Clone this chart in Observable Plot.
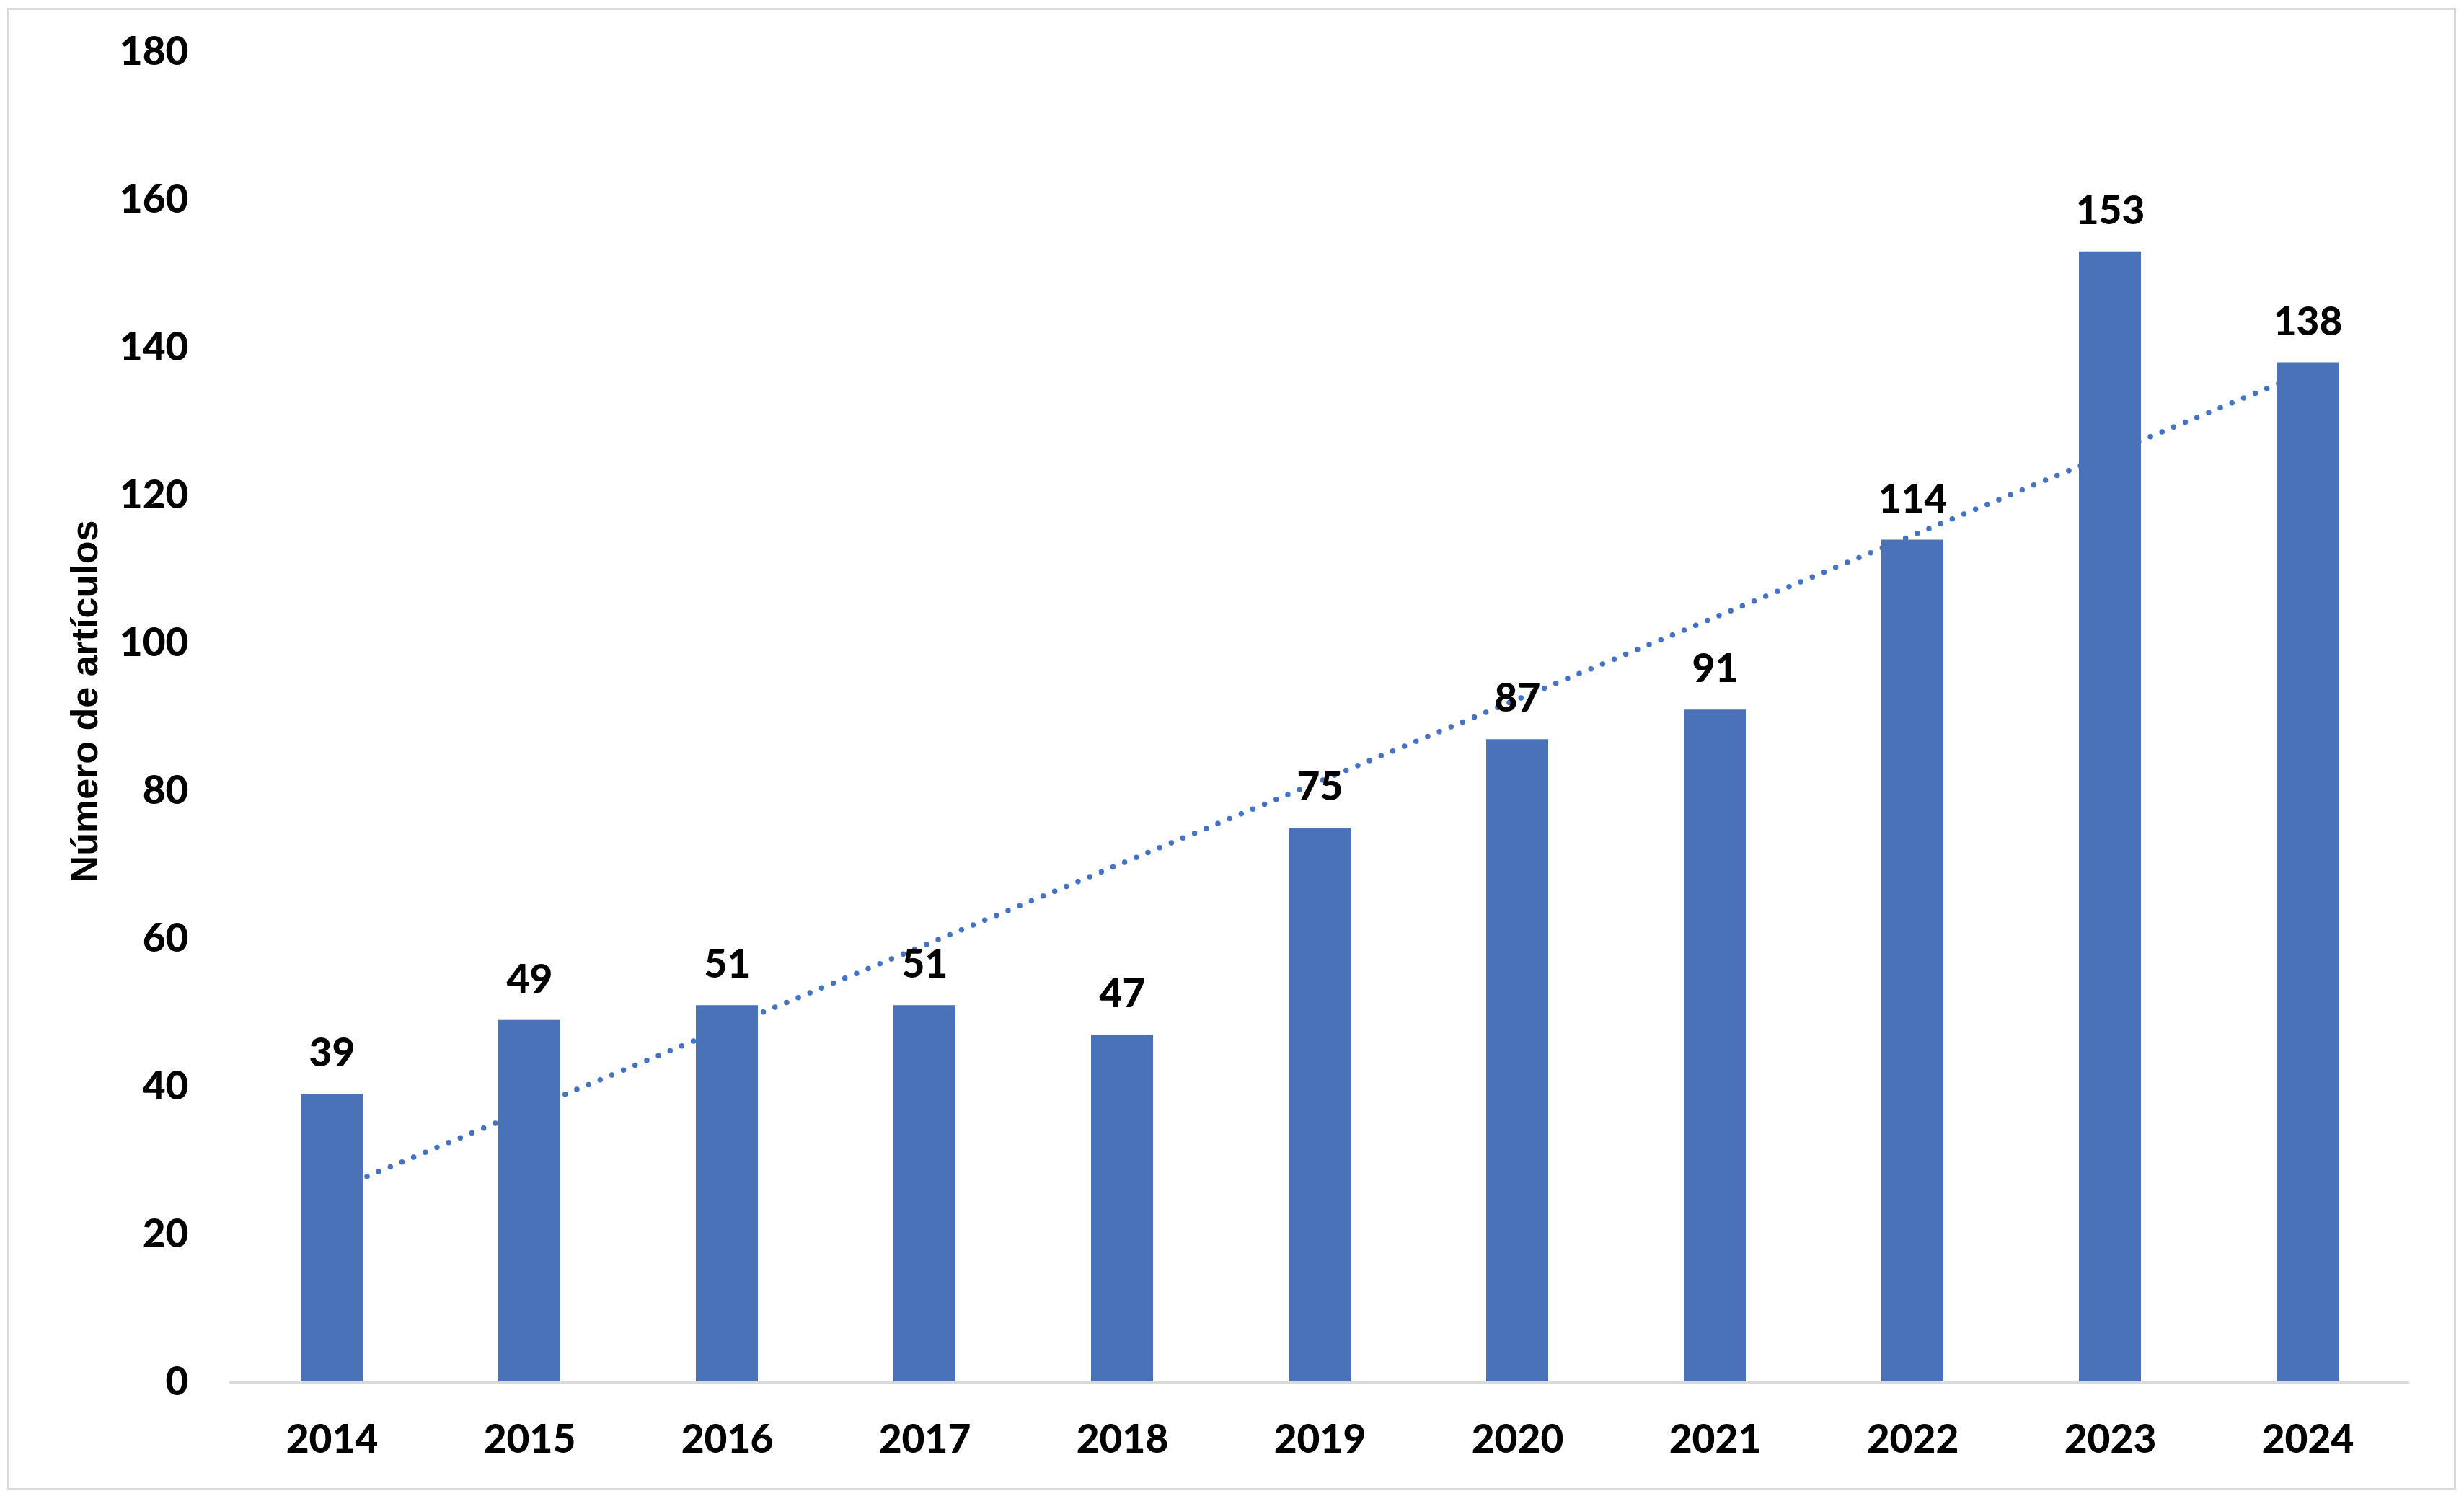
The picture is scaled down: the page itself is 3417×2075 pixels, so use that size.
<!DOCTYPE html>
<html>
<head>
<meta charset="utf-8">
<script src="https://cdn.jsdelivr.net/npm/d3@7"></script>
<script src="https://cdn.jsdelivr.net/npm/@observablehq/plot@0.6"></script>
<style>
  html, body { margin: 0; padding: 0; background: #fff; }
</style>
</head>
<body>
<div id="chart"></div>
<script>
const years = ["2014", "2015", "2016", "2017", "2018", "2019", "2020", "2021", "2022", "2023", "2024"];
const articles = [39, 49, 51, 51, 47, 75, 87, 91, 114, 153, 138];
const yTicks = [0, 20, 40, 60, 80, 100, 120, 140, 160, 180];
const yLabel = "Número de artículos";

const data = years.map((year, i) => ({year, value: articles[i]}));

// Linear (least-squares) trend line computed from the data
const idx = d3.range(articles.length);
const mx = d3.mean(idx), my = d3.mean(articles);
const slope = d3.sum(idx, i => (i - mx) * (articles[i] - my)) / d3.sum(idx, i => (i - mx) ** 2);
const trend = years.map((year, i) => ({year, value: my + slope * (i - mx)}));

const blue = "#4A72B8";
const lineBlue = "#4472C4";
const grey = "#d9d9d9";
const numFont = "Lato, 'Open Sans', sans-serif";
const numWeight = 900;

const chart = Plot.plot({
  width: 3417,
  height: 2075,
  marginLeft: 318,
  marginRight: 76,
  marginTop: 72,
  marginBottom: 158,
  style: {fontFamily: numFont, fontSize: "55px", fontWeight: "bold", background: "#fff", color: "#000"},
  x: {type: "band", domain: years, paddingInner: 0.687, paddingOuter: 0.3435},
  y: {domain: [0, 180]},
  marks: [
    Plot.frame({stroke: grey, strokeWidth: 3, insetLeft: -307, insetTop: -60, insetRight: -63, insetBottom: -148}),
    Plot.line(trend, {x: "year", y: "value", stroke: lineBlue, strokeWidth: 7.5, strokeDasharray: "0 17.5", strokeLinecap: "round"}),
    Plot.barY(data, {x: "year", y: "value", fill: blue}),
    Plot.ruleY([0], {stroke: grey, strokeWidth: 3}),
    Plot.text(data, {x: "year", y: "value", text: d => String(d.value), dy: -56, fill: "#000",
      fontFamily: numFont, fontSize: 55, fontWeight: numWeight}),
    Plot.axisX({tickSize: 0, tickPadding: 58, label: null, fontFamily: numFont, fontSize: 55, fontWeight: numWeight, fill: "#000"}),
    Plot.axisY({ticks: yTicks, tickSize: 0, tickPadding: 57, label: null, fontFamily: numFont, fontSize: 55, fontWeight: numWeight, fill: "#000"}),
    Plot.text([yLabel], {frameAnchor: "left", textAnchor: "middle", dx: -200, dy: -22, rotate: -90, text: d => d,
      fontFamily: "'Liberation Sans', Arial, sans-serif", fontSize: 52, fontWeight: "bold", fill: "#000"})
  ]
});
document.getElementById("chart").appendChild(chart);
</script>
</body>
</html>
